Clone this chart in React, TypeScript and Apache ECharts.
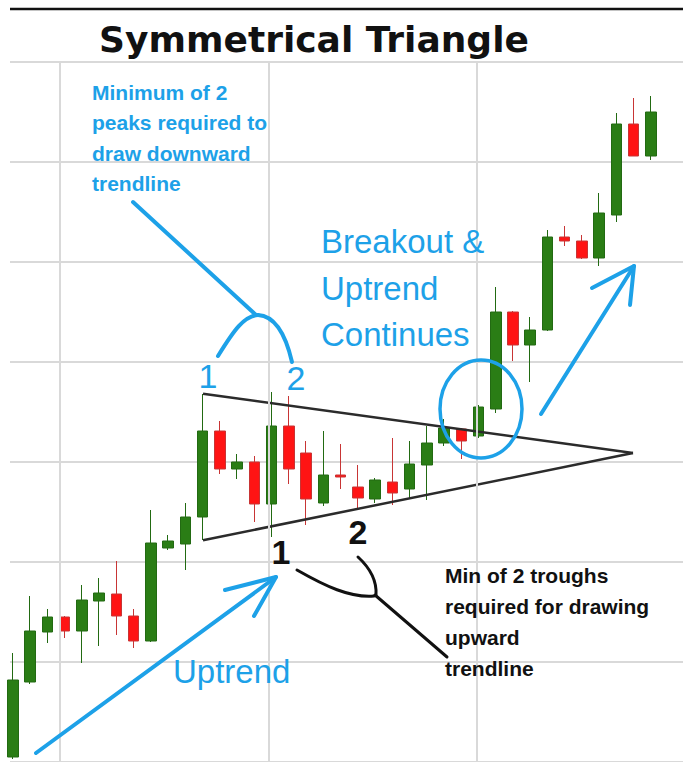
import React, { useEffect, useRef } from "react";
import * as echarts from "echarts";

// [open, close, low, high] per session
const ohlc: number[][] = [
  [0.5, 8.2, 0.3, 10.9],
  [8.0, 13.1, 7.8, 16.6],
  [13.0, 14.5, 11.9, 15.3],
  [14.5, 13.1, 12.4, 14.6],
  [13.1, 16.2, 9.9, 17.7],
  [16.1, 16.9, 11.6, 18.4],
  [16.8, 14.6, 12.7, 20.1],
  [14.6, 12.1, 11.4, 15.3],
  [12.1, 21.9, 12.0, 25.2],
  [21.4, 22.1, 21.2, 22.7],
  [21.8, 24.5, 19.2, 25.9],
  [24.5, 33.1, 22.2, 36.8],
  [33.1, 29.3, 28.8, 34.1],
  [29.3, 30.0, 28.3, 30.8],
  [30.0, 25.8, 24.0, 30.6],
  [25.8, 33.6, 22.5, 37.0],
  [33.6, 29.3, 27.8, 36.6],
  [30.9, 26.3, 23.7, 32.1],
  [25.9, 28.7, 25.6, 33.1],
  [28.7, 28.5, 27.3, 31.8],
  [27.5, 26.4, 25.4, 29.7],
  [26.3, 28.2, 25.9, 28.4],
  [28.0, 26.9, 25.7, 32.4],
  [27.3, 29.8, 26.4, 32.1],
  [29.7, 31.9, 26.2, 33.6],
  [31.9, 33.4, 31.6, 34.3],
  [33.3, 32.1, 30.3, 33.4],
  [32.6, 35.5, 32.4, 35.7],
  [35.3, 45.0, 34.9, 47.5],
  [45.0, 41.7, 40.1, 45.1],
  [41.7, 43.2, 38.0, 44.5],
  [43.2, 52.5, 43.1, 53.2],
  [52.5, 52.1, 51.6, 53.6],
  [52.1, 50.4, 50.3, 52.7],
  [50.4, 54.9, 49.6, 56.9],
  [54.7, 63.8, 54.0, 64.9],
  [63.8, 60.6, 60.6, 66.4],
  [60.6, 65.0, 60.2, 66.6],
];

// session positions of the vertical grid lines
const vGridAt = [2.73, 14.82, 26.91];
// triangle trendlines [session, price]
const upperTrend = [
  [11.02, 36.83],
  [35.96, 30.89],
];
const lowerTrend = [
  [11.02, 22.18],
  [35.96, 30.89],
];

const titleText = "Symmetrical Triangle";
const peakNote = ["Minimum of 2", "peaks required to", "draw downward", "trendline"];
const troughNote = ["Min of 2 troughs", "required for drawing", "upward", "trendline"];
const breakoutNote = ["Breakout &", "Uptrend", "Continues"];
const uptrendLabel = "Uptrend";

export default function App() {
  const ref = useRef<HTMLDivElement>(null);

  useEffect(() => {
    const chart = echarts.init(ref.current!, undefined, { renderer: "svg" });
    const BLUE = "#1da1e8";
    const INK = "#111111";
    const blueStroke = { stroke: BLUE, lineWidth: 4, lineCap: "round", fill: "none" };
    const inkStroke = { stroke: INK, lineWidth: 3, lineCap: "round", fill: "none" };

    const option: any = {
      animation: false,
      backgroundColor: "#ffffff",
      grid: { left: 10, right: 0, top: 62, height: 707, containLabel: false },
      xAxis: {
        type: "value",
        min: -0.174,
        max: 38.86,
        axisLine: { show: false },
        axisTick: { show: false },
        axisLabel: { show: false },
        splitLine: { show: false },
      },
      yAxis: {
        type: "value",
        min: 0,
        max: 70,
        interval: 10,
        axisLine: { show: false },
        axisTick: { show: false },
        axisLabel: { show: false },
        splitLine: { show: true, lineStyle: { color: "#d9d9d9", width: 2 } },
      },
      series: [
        {
          type: "line",
          data: [],
          z: 1,
          silent: true,
          markLine: {
            silent: true,
            symbol: "none",
            label: { show: false },
            lineStyle: { color: "#d9d9d9", width: 2, type: "solid" },
            data: vGridAt.map((x) => ({ xAxis: x })),
          },
        },
        {
          type: "candlestick",
          data: ohlc.map((d, i) => [i, d[0], d[1], d[2], d[3]]),
          barWidth: 11,
          z: 2,
          itemStyle: {
            color: "#2a7d15",
            borderColor: "#226a12",
            color0: "#ff1414",
            borderColor0: "#c83535",
            borderWidth: 1,
          },
        },
        {
          type: "line",
          data: upperTrend,
          symbol: "none",
          z: 3,
          silent: true,
          lineStyle: { color: "#2b2b2b", width: 2.5 },
        },
        {
          type: "line",
          data: lowerTrend,
          symbol: "none",
          z: 3,
          silent: true,
          lineStyle: { color: "#2b2b2b", width: 2.5 },
        },
      ],
      graphic: [
        { type: "line", z: 100, shape: { x1: 10, y1: 9, x2: 683, y2: 9 }, style: { stroke: INK, lineWidth: 2.5 } },
        {
          type: "text",
          z: 100,
          x: 314,
          y: 39,
          style: {
            text: titleText,
            fontFamily: "DejaVu Sans",
            fontWeight: "bold",
            fontSize: 36,
            fill: INK,
            align: "center",
            verticalAlign: "middle",
          },
        },
        {
          type: "text",
          z: 100,
          x: 92,
          y: 77,
          style: {
            text: peakNote.join("\n"),
            fontFamily: "Liberation Sans",
            fontWeight: "bold",
            fontSize: 21,
            lineHeight: 30.5,
            fill: BLUE,
            align: "left",
            verticalAlign: "top",
          },
        },
        {
          type: "text",
          z: 100,
          x: 445,
          y: 559.5,
          style: {
            text: troughNote.join("\n"),
            fontFamily: "Liberation Sans",
            fontWeight: "bold",
            fontSize: 21,
            lineHeight: 31,
            fill: INK,
            align: "left",
            verticalAlign: "top",
          },
        },
        {
          type: "text",
          z: 100,
          x: 321,
          y: 218.25,
          style: {
            text: breakoutNote.join("\n"),
            fontFamily: "Liberation Sans",
            fontSize: 33,
            lineHeight: 46.5,
            fill: BLUE,
            align: "left",
            verticalAlign: "top",
          },
        },
        {
          type: "text",
          z: 100,
          x: 173,
          y: 671.5,
          style: {
            text: uptrendLabel,
            fontFamily: "Liberation Sans",
            fontSize: 33,
            fill: BLUE,
            align: "left",
            verticalAlign: "middle",
          },
        },
        { type: "text", z: 100, x: 208, y: 376, style: { text: "1", fontFamily: "Liberation Sans", fontSize: 34, fill: BLUE, align: "center", verticalAlign: "middle" } },
        { type: "text", z: 100, x: 296, y: 378, style: { text: "2", fontFamily: "Liberation Sans", fontSize: 34, fill: BLUE, align: "center", verticalAlign: "middle" } },
        { type: "text", z: 100, x: 281, y: 552, style: { text: "1", fontFamily: "Liberation Sans", fontWeight: "bold", fontSize: 34, fill: INK, align: "center", verticalAlign: "middle" } },
        { type: "text", z: 100, x: 358, y: 532, style: { text: "2", fontFamily: "Liberation Sans", fontWeight: "bold", fontSize: 34, fill: INK, align: "center", verticalAlign: "middle" } },
        // blue pointer to peaks
        { type: "polyline", z: 100, shape: { points: [[133, 202], [256, 315]] }, style: blueStroke },
        { type: "bezierCurve", z: 100, shape: { x1: 218, y1: 356, cpx1: 234, cpy1: 330, cpx2: 244, cpy2: 316, x2: 258, y2: 315 }, style: blueStroke },
        { type: "bezierCurve", z: 100, shape: { x1: 258, y1: 315, cpx1: 276, cpy1: 316, cpx2: 286, cpy2: 336, x2: 292, y2: 362 }, style: blueStroke },
        // uptrend arrow
        { type: "polyline", z: 100, shape: { points: [[36, 753], [276, 577]] }, style: blueStroke },
        { type: "polyline", z: 100, shape: { points: [[225, 590], [276, 577], [254, 616]] }, style: { ...blueStroke, lineJoin: "round" } },
        // breakout arrow
        { type: "polyline", z: 100, shape: { points: [[541, 414], [634, 266]] }, style: blueStroke },
        { type: "polyline", z: 100, shape: { points: [[592, 288], [634, 266], [630, 305]] }, style: { ...blueStroke, lineJoin: "round" } },
        // breakout circle
        { type: "ellipse", z: 100, shape: { cx: 481, cy: 409, rx: 41, ry: 49 }, style: { fill: "none", stroke: BLUE, lineWidth: 3.5 } },
        // black bracket to troughs
        { type: "bezierCurve", z: 100, shape: { x1: 297, y1: 570, cpx1: 325, cpy1: 586, cpx2: 350, cpy2: 598, x2: 374, y2: 596 }, style: inkStroke },
        { type: "bezierCurve", z: 100, shape: { x1: 358, y1: 557, cpx1: 370, cpy1: 568, cpx2: 377, cpy2: 580, x2: 376, y2: 595 }, style: inkStroke },
        { type: "polyline", z: 100, shape: { points: [[375, 595], [447, 657]] }, style: inkStroke },
      ],
    };

    chart.setOption(option);
    return () => chart.dispose();
  }, []);

  return (
    <div
      ref={ref}
      style={{ position: "absolute", left: 0, top: 0, width: 683, height: 762, background: "#ffffff" }}
    />
  );
}
